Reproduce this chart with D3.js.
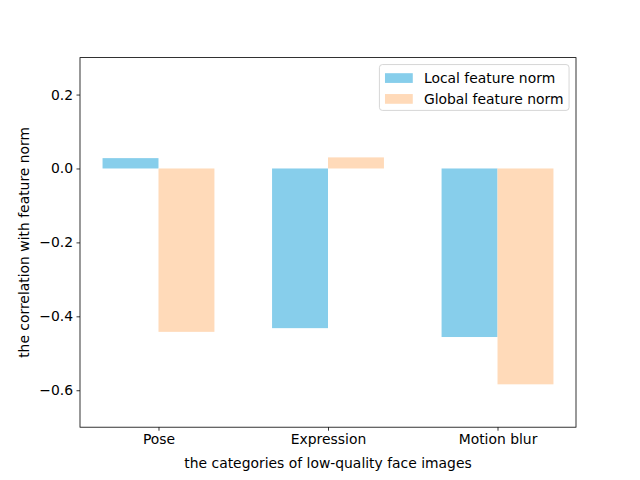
<!DOCTYPE html>
<html><head><meta charset="utf-8">
<script src="https://cdn.jsdelivr.net/npm/d3@7"></script>
<style>body{margin:0;background:#fff}svg{display:block;font-family:"DejaVu Sans",sans-serif}</style>
</head><body><svg id="c" width="640" height="480"></svg>
<script>
const categories = ["Pose", "Expression", "Motion blur"];
const localNorm = [0.028, -0.432, -0.456];
const globalNorm = [-0.442, 0.03, -0.584];
const seriesNames = ["Local feature norm", "Global feature norm"];
const yTicks = [-0.6, -0.4, -0.2, 0.0, 0.2];

const svg = d3.select("#c");
const L = 80, R = 576, T = 57.6, B = 427.2;
const fs = 13.9;
const w = 0.33;
const x = d3.scaleLinear().domain([-w - 0.05*(2+2*w), 2 + w + 0.05*(2+2*w)]).range([L, R]);
const y = d3.scaleLinear().domain([-0.7, 0.3]).range([B, T]);
const colors = ["#87CEEB", "#FFDAB9"];
const series = [localNorm, globalNorm];

series.forEach((vals, s) => {
  svg.append("g").selectAll("rect").data(vals).join("rect")
    .attr("x", (d, i) => x(i + (s === 0 ? -w : 0)))
    .attr("width", x(w) - x(0))
    .attr("y", d => y(Math.max(0, d)))
    .attr("height", d => Math.abs(y(d) - y(0)))
    .attr("fill", colors[s]);
});

// axes
const yAxis = d3.axisLeft(y).tickValues(yTicks).tickSize(3.5).tickPadding(3.5)
  .tickFormat(d => d3.format(".1f")(d).replace("-", "\u2212"));
const gy = svg.append("g").attr("transform", `translate(${L},0)`).call(yAxis);
const xAxis = d3.axisBottom(x).tickValues([0,1,2]).tickSize(3.5).tickPadding(3.5)
  .tickFormat(i => categories[i]);
const gx = svg.append("g").attr("transform", `translate(0,${B})`).call(xAxis);
[gx, gy].forEach(g => {
  g.select(".domain").remove();
  g.selectAll("line").attr("stroke", "#000").attr("stroke-width", 0.8);
  g.selectAll("text").attr("font-size", fs).attr("fill", "#000").attr("font-family", "DejaVu Sans");
});
svg.append("rect").attr("x", L).attr("y", T).attr("width", R - L).attr("height", B - T)
  .attr("fill", "none").attr("stroke", "#000").attr("stroke-width", 0.8);

// labels
svg.append("text").attr("x", (L + R) / 2).attr("y", 468).attr("text-anchor", "middle")
  .attr("font-size", fs).text("the categories of low-quality face images");
svg.append("text").attr("transform", `translate(29,${(T + B) / 2}) rotate(-90)`)
  .attr("text-anchor", "middle").attr("font-size", fs).text("the correlation with feature norm");

// legend
const pad = 0.4 * fs, hl = 2 * fs, htp = 0.8 * fs, ls = 0.5 * fs;
const lg = svg.append("g");
const frame = lg.append("rect");
const texts = seriesNames.map((n, i) => lg.append("text").attr("font-size", fs).text(n));
const tw = d3.max(texts, t => t.node().getComputedTextLength());
const fw = pad * 2 + hl + htp + tw;
const fh = pad * 2 + fs * 2 + ls;
const fx = R - 0.5 * fs - fw, fy = T + 0.5 * fs;
frame.attr("x", fx).attr("y", fy).attr("width", fw).attr("height", fh).attr("rx", 3)
  .attr("fill", "#fff").attr("fill-opacity", 0.8).attr("stroke", "#ccc").attr("stroke-width", 0.8);
seriesNames.forEach((n, i) => {
  const cy = fy + pad + fs / 2 + i * (fs + ls) + 1;
  lg.append("rect").attr("x", fx + pad).attr("y", cy - 0.35 * fs).attr("width", hl).attr("height", 0.7 * fs)
    .attr("fill", colors[i]);
  texts[i].attr("x", fx + pad + hl + htp).attr("y", cy).attr("dy", "0.35em");
});
texts.forEach(t => t.raise());
</script></body></html>
